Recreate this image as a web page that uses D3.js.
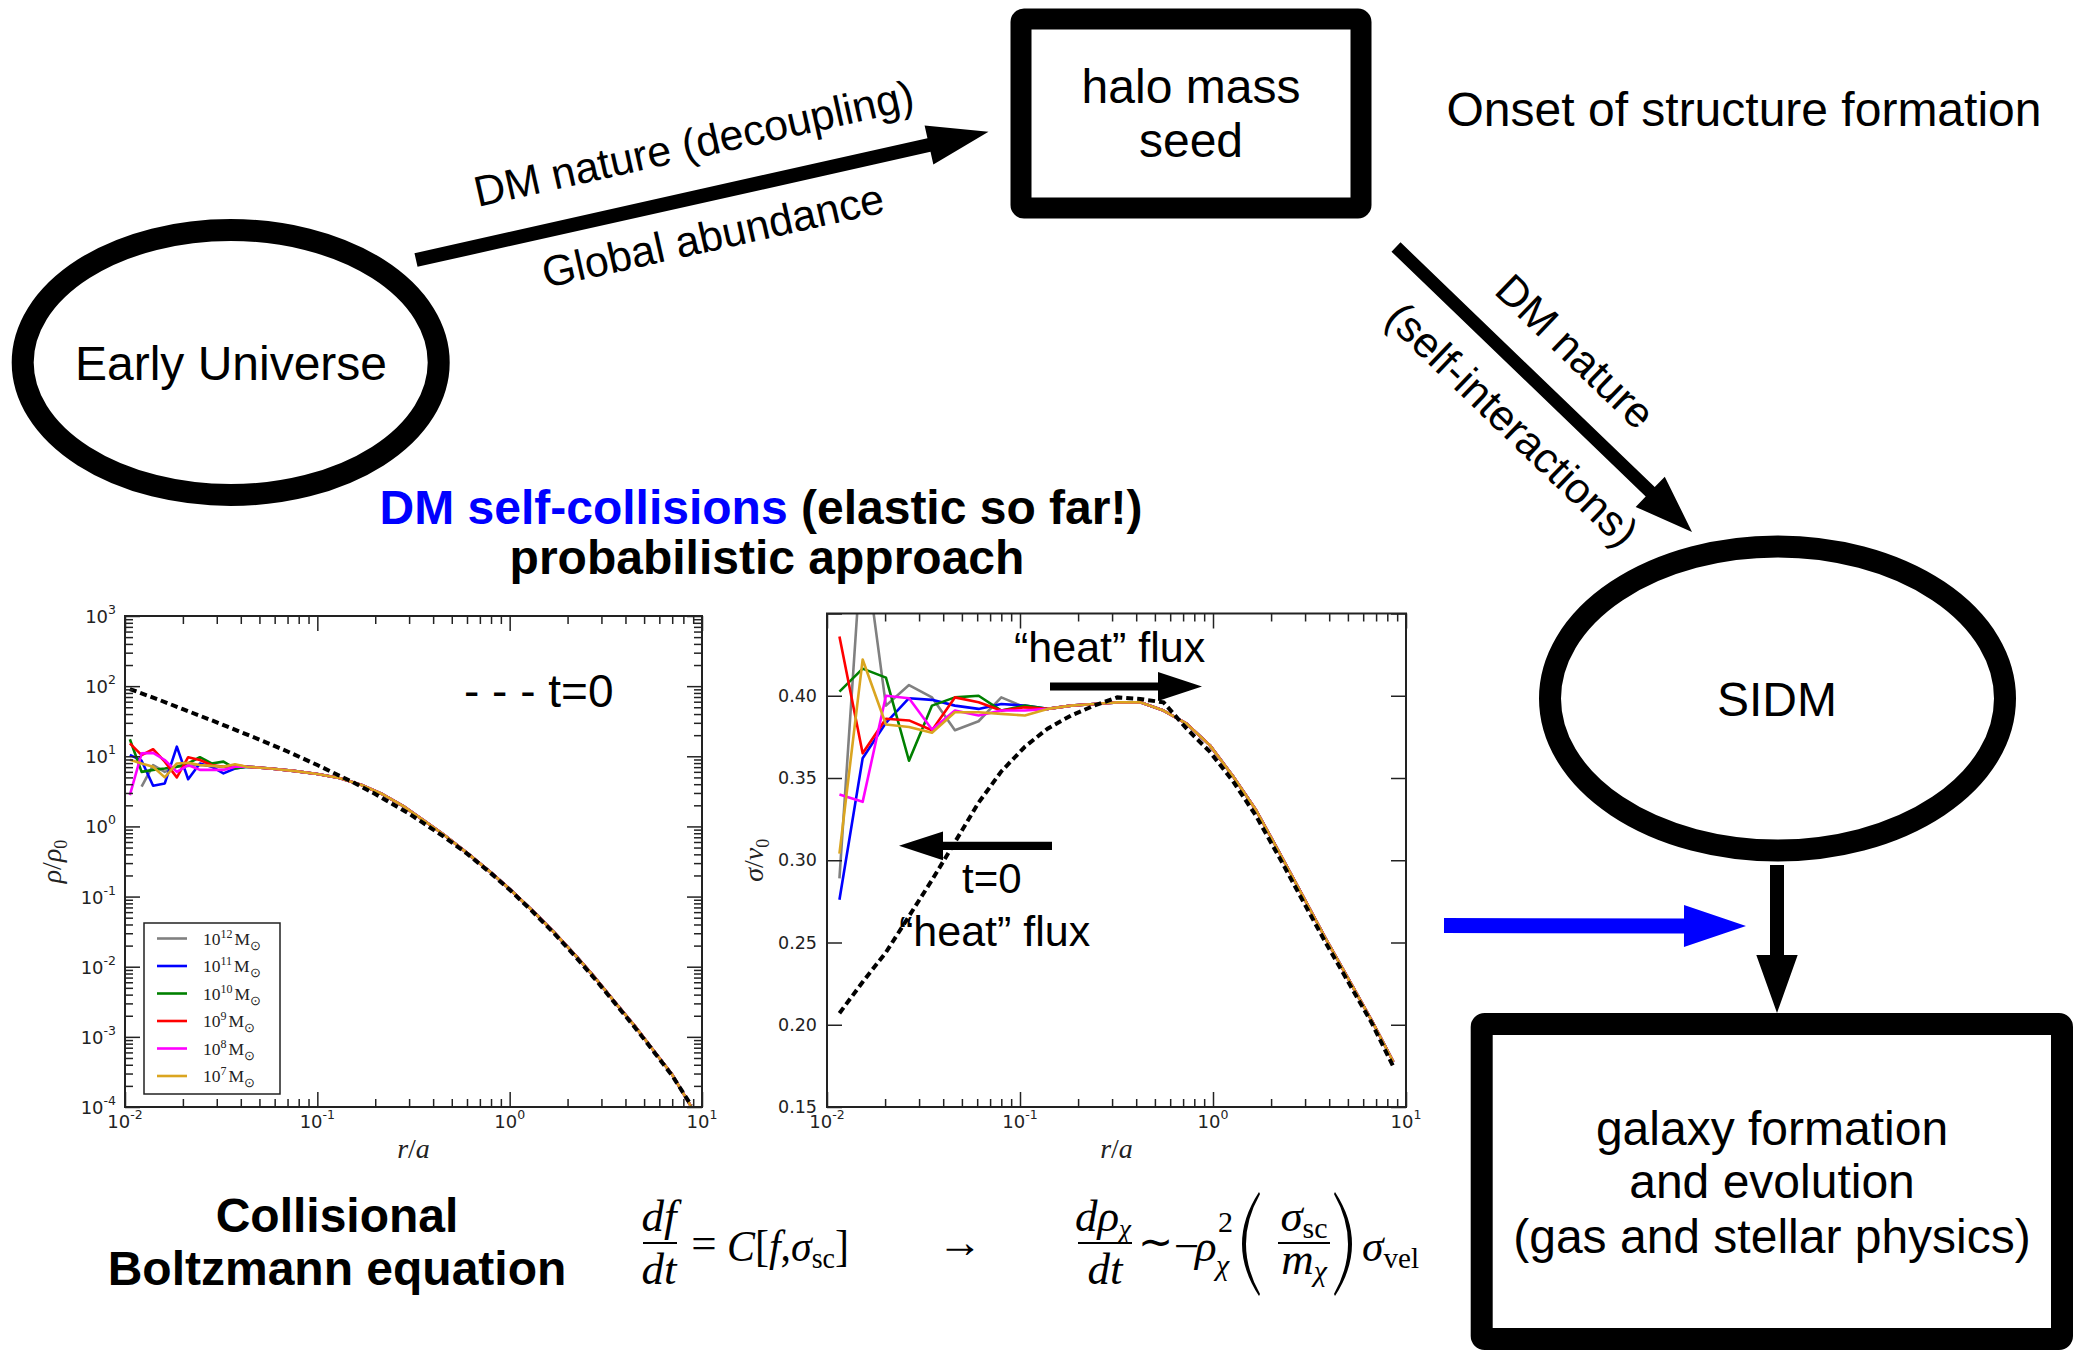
<!DOCTYPE html>
<html>
<head>
<meta charset="utf-8">
<script src="https://cdn.jsdelivr.net/npm/d3@7"></script>
<style>
  body { margin: 0; background: #fff; }
  svg { display: block; }
</style>
</head>
<body>
<div id="fig"></div>
<script>
var W = 2080, H = 1351;
var SANS = '"Liberation Sans", Arial, sans-serif';
var SERIF = '"Liberation Serif", "Times New Roman", serif';
var TICKFONT = '"DejaVu Sans", sans-serif';

// series shared by both panels
var massExp = ["12", "11", "10", "9", "8", "7"];
var colors = ["#808080", "#0000ff", "#008000", "#ff0000", "#ff00ff", "#daa520"];

// density panel: inner noisy bins (one array per halo mass) + common outer profile
var rhoRInner = [0.0106, 0.0122, 0.0140, 0.0161, 0.0186, 0.0213, 0.0245, 0.0282, 0.0325, 0.0373];
var rhoGray    = [null, 3.7, 7.5, 6.0, 7.1, 7.3, 7.5, 7.3, 7.0, 7.1];
var rhoBlue    = [10.5, 8.65, 3.8, 4.1, 13.7, 4.7, 7.9, 7.1, 5.7, 6.7];
var rhoGreen   = [17.5, 6.0, 6.4, 6.7, 7.1, 7.9, 9.7, 7.9, 8.4, 6.7];
var rhoRed     = [15.3, 10.4, 12.6, 8.4, 5.0, 9.7, 8.85, 7.5, 7.1, 7.5];
var rhoMagenta = [2.8, 11.0, 11.2, 8.85, 6.0, 7.5, 6.4, 6.4, 6.4, 7.1];
var rhoOrange  = [8.9, 7.9, 7.1, 5.0, 7.9, 8.1, 7.5, 7.3, 7.1, 7.7];
var rhoROuter = [0.043, 0.057, 0.075, 0.10, 0.13, 0.17, 0.22, 0.28, 0.36, 0.45, 0.60, 0.80, 1.0, 1.3, 1.7, 2.2, 2.8, 3.5, 4.5, 5.6, 7.0, 8.8];
var rhoOuter  = [7.1, 6.7, 6.2, 5.6, 4.9, 3.9, 2.85, 1.95, 1.2, 0.78, 0.42, 0.22, 0.128, 0.065, 0.031, 0.0145, 0.0068, 0.0032, 0.0014, 0.00064, 0.00029, 0.0001];
// t=0 density
var rho0R = [0.0106, 0.015, 0.02, 0.03, 0.05, 0.07, 0.1, 0.15, 0.2, 0.3, 0.45, 0.6, 0.8, 1.0, 1.3, 1.7, 2.2, 2.8, 3.5, 4.5, 5.6, 7.0, 8.8];
var rho0  = [91, 64, 47, 30.5, 17.3, 11.7, 7.5, 4.4, 2.9, 1.52, 0.73, 0.41, 0.214, 0.125, 0.063, 0.030, 0.0139, 0.0065, 0.0031, 0.00134, 0.00062, 0.00028, 0.000105];

// velocity dispersion panel
var sigR = [0.0116, 0.0153, 0.0202, 0.0266, 0.035, 0.046, 0.061, 0.080, 0.106, 0.139, 0.184, 0.242, 0.319, 0.42, 0.554, 0.73, 0.962, 1.27, 1.67, 2.2, 2.9, 3.83, 5.05, 6.65, 8.6];
var sigGray    = [0.289, 0.50, 0.394, 0.4065, 0.399, 0.379, 0.3845, 0.399, 0.393];
var sigBlue    = [0.276, 0.362, 0.3835, 0.3985, 0.3975, 0.394, 0.392, 0.395, 0.394];
var sigGreen   = [0.4025, 0.4165, 0.411, 0.3605, 0.394, 0.399, 0.400, 0.391, 0.394];
var sigRed     = [0.436, 0.365, 0.386, 0.385, 0.379, 0.399, 0.396, 0.391, 0.393];
var sigMagenta = [0.340, 0.3355, 0.400, 0.3985, 0.3795, 0.391, 0.388, 0.391, 0.391];
var sigOrange  = [0.304, 0.422, 0.3825, 0.381, 0.3775, 0.390, 0.390, 0.389, 0.388];
var sigOuter = [0.392, 0.394, 0.395, 0.396, 0.396, 0.391, 0.383, 0.370, 0.351, 0.3305, 0.305, 0.279, 0.2525, 0.2275, 0.2025, 0.1775];
var sig0 = [0.207, 0.226, 0.244, 0.266, 0.288, 0.311, 0.335, 0.354, 0.369, 0.380, 0.388, 0.394, 0.399, 0.398, 0.396, 0.380, 0.366, 0.348, 0.327, 0.302, 0.276, 0.250, 0.2255, 0.201, 0.1745];

// ticks
var rTicks = [0.01, 0.1, 1, 10];
var rhoTicks = [1e-4, 1e-3, 1e-2, 1e-1, 1, 10, 100, 1000];
var sigTicks = [0.15, 0.20, 0.25, 0.30, 0.35, 0.40, 0.45];
var sigLabels = ["0.15", "0.20", "0.25", "0.30", "0.35", "0.40", ""];

var svg = d3.select("#fig").append("svg")
    .attr("width", W)
    .attr("height", H)
    .style("font-family", SANS);
svg.append("rect").attr("width", W).attr("height", H).attr("fill", "#fff");

function zip(xs, ys) {
    return xs.map((x, i) => [x, ys[i]]).filter(d => d[1] !== null);
}
var rhoSeries = [rhoGray, rhoBlue, rhoGreen, rhoRed, rhoMagenta, rhoOrange]
    .map(s => zip(rhoRInner, s).concat(zip(rhoROuter, rhoOuter)));
var sigSeries = [sigGray, sigBlue, sigGreen, sigRed, sigMagenta, sigOrange]
    .map(s => zip(sigR.slice(0, s.length), s).concat(zip(sigR.slice(s.length), sigOuter)));

function logMinors(lo, hi) {
    var out = [];
    for (var e = lo; e < hi; e++)
        for (var k = 2; k < 10; k++) out.push(k * Math.pow(10, e));
    return out;
}

function tickRow(g, scale, orient, pos, values, len) {
    var ax = {bottom: d3.axisBottom, top: d3.axisTop, left: d3.axisLeft, right: d3.axisRight}[orient](scale);
    ax.tickValues(values).tickSize(-len).tickFormat("");
    var horiz = orient === "bottom" || orient === "top";
    var t = g.append("g")
        .attr("transform", horiz ? `translate(0,${pos})` : `translate(${pos},0)`)
        .call(ax);
    t.select(".domain").remove();
    t.selectAll("line").attr("stroke", "#222").attr("stroke-width", 1.5);
}

function expLabel(g, x, y, anchor, exp) {
    var t = g.append("text").attr("x", x).attr("y", y).attr("text-anchor", anchor)
        .style("font-family", TICKFONT).attr("fill", "#222").attr("font-size", 18);
    t.append("tspan").text("10");
    t.append("tspan").attr("font-size", 12.5).attr("dy", -9).text(exp);
}

function drawPanel(p) {
    var g = svg.append("g");
    var xr = p.x.range(), yr = p.y.range();
    svg.append("clipPath").attr("id", p.id).append("rect")
        .attr("x", xr[0]).attr("y", yr[1])
        .attr("width", xr[1] - xr[0]).attr("height", yr[0] - yr[1]);
    var plot = g.append("g").attr("clip-path", `url(#${p.id})`);
    var line = d3.line().x(d => p.x(d[0])).y(d => p.y(d[1]));
    p.series.forEach((s, i) => {
        plot.append("path").datum(s).attr("d", line)
            .attr("fill", "none").attr("stroke", colors[i])
            .attr("stroke-width", 2.6).attr("stroke-linejoin", "round");
    });
    plot.append("path").datum(p.initial).attr("d", line)
        .attr("fill", "none").attr("stroke", "#000")
        .attr("stroke-width", 4).attr("stroke-dasharray", "7,4");

    var xMinor = logMinors(-2, 1);
    tickRow(g, p.x, "bottom", yr[0], rTicks, 15);
    tickRow(g, p.x, "top", yr[1], rTicks, 15);
    tickRow(g, p.x, "bottom", yr[0], xMinor, 8);
    tickRow(g, p.x, "top", yr[1], xMinor, 8);
    tickRow(g, p.y, "left", xr[0], p.yTicks, 15);
    tickRow(g, p.y, "right", xr[1], p.yTicks, 15);
    if (p.yMinor) {
        tickRow(g, p.y, "left", xr[0], p.yMinor, 8);
        tickRow(g, p.y, "right", xr[1], p.yMinor, 8);
    }
    g.append("rect")
        .attr("x", xr[0]).attr("y", yr[1])
        .attr("width", xr[1] - xr[0]).attr("height", yr[0] - yr[1])
        .attr("fill", "none").attr("stroke", "#222").attr("stroke-width", 2);

    rTicks.forEach(v => expLabel(g, p.x(v), yr[0] + 21, "middle", String(Math.round(Math.log10(v)))));

    // x axis title r/a
    var xt = g.append("text").attr("x", (xr[0] + xr[1]) / 2).attr("y", yr[0] + 51)
        .attr("text-anchor", "middle").style("font-family", SERIF).attr("font-size", 28).attr("fill", "#222");
    xt.append("tspan").attr("font-style", "italic").text("r");
    xt.append("tspan").text("/");
    xt.append("tspan").attr("font-style", "italic").text("a");

    // y axis title
    var yt = g.append("text")
        .attr("transform", `translate(${xr[0] - 64},${(yr[0] + yr[1]) / 2}) rotate(-90)`)
        .attr("text-anchor", "middle").style("font-family", SERIF).attr("font-size", 28).attr("fill", "#222");
    yt.append("tspan").attr("font-style", "italic").text(p.yName);
    yt.append("tspan").text("/");
    yt.append("tspan").attr("font-style", "italic").text(p.yNorm);
    yt.append("tspan").attr("font-size", 18).attr("dy", 6).text("0");
    return g;
}

// ---------- left panel: density
var xL = d3.scaleLog().domain([0.01, 10]).range([125, 702]);
var yL = d3.scaleLog().domain([1e-4, 1e3]).range([1107, 616]);
var gL = drawPanel({id: "clipL", x: xL, y: yL, series: rhoSeries, initial: zip(rho0R, rho0),
    yTicks: rhoTicks, yMinor: logMinors(-4, 3), yName: "ρ", yNorm: "ρ"});
rhoTicks.forEach(v => expLabel(gL, 116, yL(v) + 7, "end", String(Math.round(Math.log10(v)))));

// legend
var leg = gL.append("g");
leg.append("rect").attr("x", 144).attr("y", 923).attr("width", 136).attr("height", 171)
    .attr("fill", "#fff").attr("stroke", "#222").attr("stroke-width", 1.5);
massExp.forEach((e, i) => {
    var y = 938.5 + i * 27.5;
    leg.append("line").attr("x1", 157).attr("x2", 187).attr("y1", y).attr("y2", y)
        .attr("stroke", colors[i]).attr("stroke-width", 2.6);
    var t = leg.append("text").attr("x", 203).attr("y", y + 6)
        .style("font-family", SERIF).attr("font-size", 17.5).attr("fill", "#222");
    t.append("tspan").text("10");
    t.append("tspan").attr("font-size", 12).attr("dy", -7).text(e);
    t.append("tspan").attr("dy", 7).attr("dx", 2).text("M");
    t.append("tspan").attr("font-size", 13).attr("dy", 5).text("⊙");
});
gL.append("text").attr("x", 464).attr("y", 707).attr("font-size", 46).text("- - - t=0");

// ---------- right panel: velocity dispersion
var xR = d3.scaleLog().domain([0.01, 10]).range([827, 1406]);
var yR = d3.scaleLinear().domain([0.15, 0.45]).range([1107, 613.5]);
var gR = drawPanel({id: "clipR", x: xR, y: yR, series: sigSeries, initial: zip(sigR, sig0),
    yTicks: sigTicks, yMinor: null, yName: "σ", yNorm: "v"});
sigTicks.forEach((v, i) => {
    gR.append("text").attr("x", 817).attr("y", yR(v) + 6).attr("text-anchor", "end")
        .style("font-family", TICKFONT).attr("font-size", 17.5).attr("fill", "#222").text(sigLabels[i]);
});

// ---------- arrows
function arrow(x1, y1, x2, y2, sw, hl, hw, color) {
    var a = Math.atan2(y2 - y1, x2 - x1) * 180 / Math.PI;
    var L = Math.hypot(x2 - x1, y2 - y1);
    svg.append("path")
        .attr("transform", `translate(${x1},${y1}) rotate(${a})`)
        .attr("d", `M0,${-sw / 2}L${L - hl},${-sw / 2}L${L - hl},${-hw}L${L},0L${L - hl},${hw}L${L - hl},${sw / 2}L0,${sw / 2}Z`)
        .attr("fill", color);
}
arrow(1050, 686.4, 1202, 686.4, 8, 44, 14.5, "#000");
arrow(1052, 845.8, 899, 845.8, 8.3, 44, 14.4, "#000");
gR.append("text").attr("x", 1014).attr("y", 662).attr("font-size", 43).text("“heat” flux");
gR.append("text").attr("x", 962).attr("y", 893).attr("font-size", 42).text("t=0");
gR.append("text").attr("x", 899).attr("y", 946).attr("font-size", 43).text("“heat” flux");

// ---------- flow diagram
svg.append("ellipse").attr("cx", 230.7).attr("cy", 362.5).attr("rx", 208).attr("ry", 132.5)
    .attr("fill", "none").attr("stroke", "#000").attr("stroke-width", 22);
svg.append("ellipse").attr("cx", 1777.5).attr("cy", 698.5).attr("rx", 227.5).attr("ry", 152)
    .attr("fill", "none").attr("stroke", "#000").attr("stroke-width", 22);
svg.append("rect").attr("x", 1021).attr("y", 19).attr("width", 340).attr("height", 189).attr("rx", 3)
    .attr("fill", "none").attr("stroke", "#000").attr("stroke-width", 21);
svg.append("rect").attr("x", 1481.7).attr("y", 1024).attr("width", 580.3).attr("height", 315).attr("rx", 3)
    .attr("fill", "none").attr("stroke", "#000").attr("stroke-width", 22);

arrow(416, 260, 988.5, 131.7, 14, 61, 20, "#000");
arrow(1396, 247, 1692, 532, 13, 58, 21, "#000");
arrow(1444, 925.5, 1746, 926, 15, 62, 21, "#0000ff");
arrow(1777, 865, 1777, 1013, 14, 58, 20.7, "#000");

function label(x, y, txt, size, extra) {
    var t = svg.append("text").attr("x", x).attr("y", y).attr("text-anchor", "middle")
        .attr("font-size", size).attr("fill", "#000").text(txt);
    if (extra) t.attr("transform", extra);
    return t;
}
label(231, 380, "Early Universe", 48);
label(1191, 103, "halo mass", 48);
label(1191, 157, "seed", 48);
label(1744, 126, "Onset of structure formation", 48);
label(1777, 716, "SIDM", 48);
label(1772, 1145, "galaxy formation", 48);
label(1772, 1198, "and evolution", 48);
label(1772, 1253, "(gas and stellar physics)", 48);

label(0, 0, "DM nature (decoupling)", 43, "translate(697,158) rotate(-12.6)");
label(0, 0, "Global abundance", 43, "translate(716,250) rotate(-12.6)");
label(0, 0, "DM nature", 43, "translate(1565,362) rotate(43.9)");
label(0, 0, "(self-interactions)", 43, "translate(1502,435) rotate(43.9)");

var title = svg.append("text").attr("x", 761).attr("y", 524).attr("text-anchor", "middle")
    .attr("font-size", 48).attr("font-weight", "bold");
title.append("tspan").attr("fill", "#0000ff").text("DM self-collisions");
title.append("tspan").attr("fill", "#000").text(" (elastic so far!)");
label(767, 574, "probabilistic approach", 48).attr("font-weight", "bold");
label(337, 1232, "Collisional", 48).attr("font-weight", "bold");
label(337, 1285, "Boltzmann equation", 48).attr("font-weight", "bold");

// ---------- equations
var eq = svg.append("g").style("font-family", SERIF).attr("fill", "#000");
function mtext(x, y, anchor, size) {
    return eq.append("text").attr("x", x).attr("y", y).attr("text-anchor", anchor).attr("font-size", size);
}
function bar(x1, x2, y) {
    eq.append("line").attr("x1", x1).attr("x2", x2).attr("y1", y).attr("y2", y)
        .attr("stroke", "#000").attr("stroke-width", 1.8);
}
function paren(tipX, top, bot, dir) {
    var mid = (top + bot) / 2, depth = 17, th = 3.5;
    var p = d3.path();
    p.moveTo(tipX, top);
    p.quadraticCurveTo(tipX - dir * 2 * depth, mid, tipX, bot);
    p.lineTo(tipX + dir * 1, bot - 2);
    p.quadraticCurveTo(tipX - dir * (2 * depth - 2 * th), mid, tipX + dir * 1, top + 2);
    p.closePath();
    eq.append("path").attr("d", p.toString()).attr("fill", "#000");
}
var it = "italic";
var ES = 45, SS = 30;
// df/dt = C[f, sigma_sc]
mtext(659, 1231, "middle", ES).attr("font-style", it).text("df");
bar(643, 677, 1243);
mtext(659, 1284, "middle", ES).attr("font-style", it).text("dt");
mtext(704, 1258, "middle", ES).text("=");
var c1 = mtext(727, 1261, "start", ES).attr("textLength", 122).attr("lengthAdjust", "spacingAndGlyphs");
c1.append("tspan").attr("font-style", it).text("C");
c1.append("tspan").text("[");
c1.append("tspan").attr("font-style", it).text("f");
c1.append("tspan").text(",");
c1.append("tspan").attr("font-style", it).text("σ");
c1.append("tspan").attr("font-size", SS).attr("dy", 7).text("sc");
c1.append("tspan").attr("dy", -7).text("]");
mtext(960, 1257, "middle", ES).text("→");
// d rho/dt ~ -rho^2 (sigma/m) sigma_vel
var n2 = mtext(1103, 1231, "middle", ES);
n2.append("tspan").attr("font-style", it).text("dρ");
n2.append("tspan").attr("font-style", it).attr("font-size", 27).attr("dy", 7).text("χ");
bar(1078, 1132, 1243);
mtext(1105, 1284, "middle", ES).attr("font-style", it).text("dt");
mtext(1155, 1256, "middle", 42).text("∼");
mtext(1174, 1261, "start", ES).text("−");
mtext(1195, 1261, "start", ES).attr("font-style", it).text("ρ");
mtext(1218, 1232, "start", SS).text("2");
mtext(1216, 1275, "start", SS).attr("font-style", it).text("χ");
paren(1259, 1192, 1296, 1);
var n3 = mtext(1304, 1231, "middle", ES);
n3.append("tspan").attr("font-style", it).text("σ");
n3.append("tspan").attr("font-size", SS).attr("dy", 7).text("sc");
bar(1278, 1330, 1243);
var d3t = mtext(1304, 1274, "middle", ES);
d3t.append("tspan").attr("font-style", it).text("m");
d3t.append("tspan").attr("font-style", it).attr("font-size", SS).attr("dy", 7).text("χ");
paren(1335, 1192, 1296, -1);
var s3 = mtext(1362, 1261, "start", ES).attr("textLength", 57).attr("lengthAdjust", "spacingAndGlyphs");
s3.append("tspan").attr("font-style", it).text("σ");
s3.append("tspan").attr("font-size", SS).attr("dy", 7).text("vel");
</script>
</body>
</html>
